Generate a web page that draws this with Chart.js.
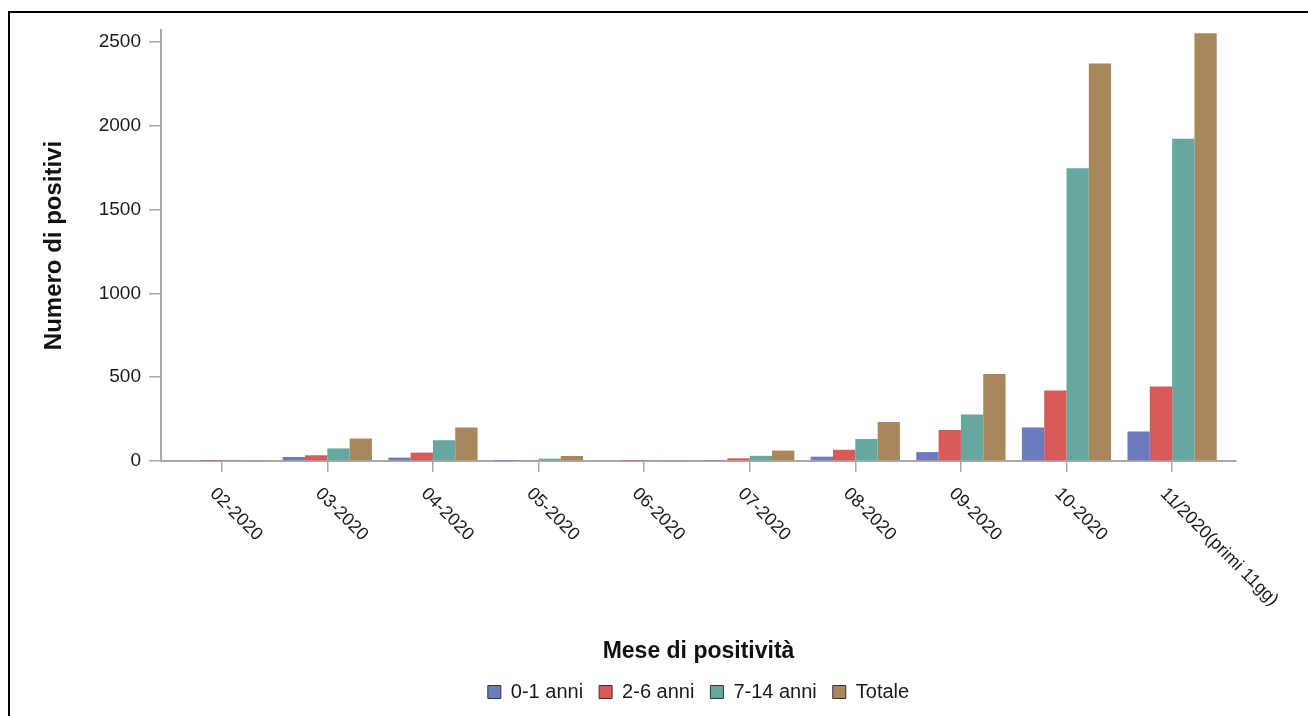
<!DOCTYPE html>
<html lang="it">
<head>
<meta charset="UTF-8">
<title>Numero di positivi per mese</title>
<script src="https://cdn.jsdelivr.net/npm/chart.js@4.4.1/dist/chart.umd.min.js"></script>
<style>
  html, body { margin: 0; padding: 0; background: #fff; overflow: hidden; }
  #cornice { position: absolute; left: 8px; top: 11px; width: 1400px; height: 800px;
             border-top: 2.5px solid #000; border-left: 2.5px solid #000; }
  #grafico { position: absolute; left: 0; top: 0; }
</style>
</head>
<body>
<div id="cornice"></div>
<canvas id="grafico" width="1308" height="716"></canvas>
<script>
// dati
const mesi = ['02-2020', '03-2020', '04-2020', '05-2020', '06-2020', '07-2020',
              '08-2020', '09-2020', '10-2020', '11/2020(primi 11gg)'];
const anni0_1  = [0, 24, 20, 1, 0, 2, 26, 53, 200, 176];
const anni2_6  = [1, 34, 50, 3, 1, 16, 67, 185, 420, 444];
const anni7_14 = [1, 75, 124, 14, 2, 31, 131, 277, 1745, 1922];
const totale   = [3, 134, 200, 30, 4, 62, 233, 519, 2370, 2550];
const nomiSerie = ['0-1 anni', '2-6 anni', '7-14 anni', 'Totale'];
const tickY = [0, 500, 1000, 1500, 2000, 2500];

const colori = ['#6b7bbb', '#d75a58', '#66a8a0', '#a8875b'];
const FONT = "'Liberation Sans', Arial, sans-serif";
const grigio = '#a9a9a9';

// etichette dell'asse x ruotate verso il basso a destra
const etichetteX = {
  id: 'etichetteX',
  afterDraw(chart) {
    const sc = chart.scales.x;
    const ctx = chart.ctx;
    ctx.save();
    ctx.font = '18px ' + FONT;
    ctx.fillStyle = '#1a1a1a';
    ctx.textAlign = 'left';
    ctx.textBaseline = 'middle';
    sc.ticks.forEach((t, i) => {
      const x = sc.getPixelForTick(i);
      ctx.save();
      ctx.translate(x - 9, sc.top + 30);
      ctx.rotate(Math.PI / 4);
      ctx.fillText(mesi[i], 0, 0);
      ctx.restore();
    });
    ctx.restore();
  }
};

const serie = [anni0_1, anni2_6, anni7_14, totale];

new Chart(document.getElementById('grafico'), {
  type: 'bar',
  data: {
    labels: mesi,
    datasets: serie.map((d, i) => ({
      label: nomiSerie[i],
      data: d,
      backgroundColor: colori[i],
      borderWidth: 0,
      categoryPercentage: 0.845,
      barPercentage: 1
    }))
  },
  options: {
    responsive: false,
    animation: false,
    layout: { padding: { top: 30, right: 72, bottom: 4, left: 0 } },
    plugins: {
      tooltip: { enabled: false },
      legend: {
        position: 'bottom',
        fullSize: false,
        labels: {
          font: { family: FONT, size: 20 },
          color: '#1a1a1a',
          boxWidth: 13,
          boxHeight: 13,
          padding: 16,
          generateLabels: chart => Chart.defaults.plugins.legend.labels.generateLabels(chart)
            .map(l => Object.assign(l, { strokeStyle: '#333', lineWidth: 1 }))
        }
      }
    },
    scales: {
      x: {
        offset: true,
        afterBuildTicks: s => { s._startValue = -0.575; s._valueRange = 10.18; },
        afterFit: s => { s.height = 205; },
        grid: { display: true, drawOnChartArea: false, offset: false, drawTicks: true,
                tickLength: 11, color: grigio, lineWidth: 1.5 },
        border: { display: true, color: grigio, width: 2 },
        ticks: { display: false },
        title: {
          display: true,
          text: 'Mese di positività',
          font: { family: FONT, size: 23, weight: 'bold' },
          color: '#111',
          padding: { top: 0, bottom: 1 }
        }
      },
      y: {
        min: 0,
        max: 2570,
        afterFit: s => { s.width = 161; },
        afterBuildTicks: s => { s.ticks = tickY.map(v => ({ value: v })); },
        grid: { display: true, drawOnChartArea: false, drawTicks: true,
                tickLength: 12, color: grigio, lineWidth: 1.5 },
        border: { display: true, color: grigio, width: 2 },
        ticks: {
          font: { family: FONT, size: 19 },
          color: '#1a1a1a',
          padding: 8,
          callback: v => String(v)
        },
        title: {
          display: true,
          text: 'Numero di positivi',
          font: { family: FONT, size: 24, weight: 'bold' },
          color: '#111',
          padding: { top: 40, bottom: 0 }
        }
      }
    }
  },
  plugins: [etichetteX]
});
</script>
</body>
</html>
